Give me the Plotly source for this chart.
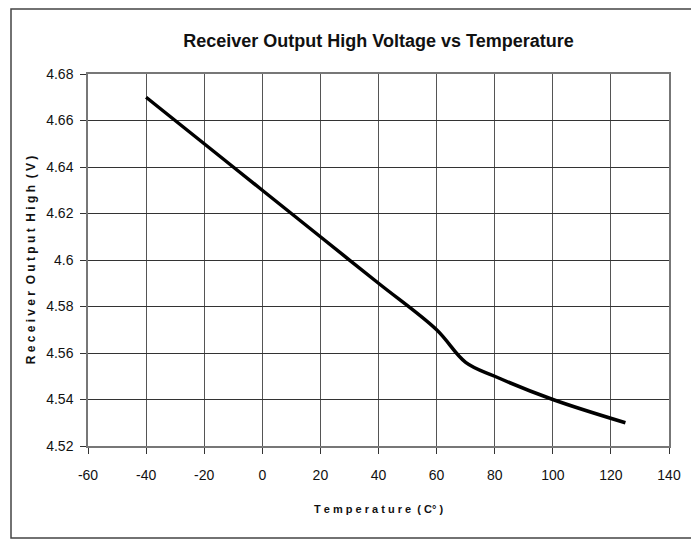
import plotly.graph_objects as go

# temperature (C) and receiver output high voltage (V)
temperature = [-40, -20, 0, 20, 40, 60, 70, 80, 100, 125]
voltage = [4.67, 4.65, 4.63, 4.61, 4.59, 4.57, 4.556, 4.55, 4.54, 4.53]

x_ticks = [-60, -40, -20, 0, 20, 40, 60, 80, 100, 120, 140]
x_tick_text = ['-60', '-40', '-20', '0', '20', '40', '60', '80', '100', '120', '140']
y_ticks = [4.52, 4.54, 4.56, 4.58, 4.6, 4.62, 4.64, 4.66, 4.68]
y_tick_text = ['4.52', '4.54', '4.56', '4.58', '4.6', '4.62', '4.64', '4.66', '4.68']

FONT = 'Liberation Sans Narrow, Arial Narrow, Liberation Sans, Arial'

# page body has an 8px margin, so the figure is 8px smaller than the window
W, H = 691, 532

figure = go.Figure()

figure.add_trace(
    go.Scatter(
        x=temperature,
        y=voltage,
        mode='lines',
        line=dict(color='#000000', width=3.5, shape='spline', smoothing=1.0),
        showlegend=False
    )
)

figure.update_layout(
    width=W,
    height=H,
    margin=dict(l=80, r=30, t=66, b=94, autoexpand=False),
    plot_bgcolor='white',
    paper_bgcolor='white',
    font=dict(family=FONT, size=13, color='#111111'),
    title=dict(
        text='<b>Receiver Output High Voltage vs Temperature</b>',
        x=(80 + 581 / 2) / W,
        xanchor='center',
        y=1 - 33 / H,
        yanchor='middle',
        font=dict(family=FONT, size=18, color='#111111')
    ),
    shapes=[
        dict(
            type='rect',
            xref='paper', yref='paper',
            x0=(3 - 80) / 581, x1=(685 - 80) / 581,
            y0=(438 - 530) / 372, y1=(438 - 1) / 372,
            line=dict(color='#444444', width=1.5),
            fillcolor='rgba(0,0,0,0)'
        )
    ]
)

figure.update_xaxes(
    range=[-60, 140],
    tickvals=x_ticks,
    ticktext=x_tick_text,
    automargin=False,
    showgrid=True,
    gridcolor='#555555',
    gridwidth=1,
    showline=True,
    linecolor='#777777',
    linewidth=1.5,
    mirror=True,
    ticks='outside',
    ticklen=6,
    tickcolor='#333333',
    ticklabelstandoff=9,
    zeroline=False,
    tickfont=dict(family=FONT, size=14),
    title=dict(
        text='<b>T e m p e r a t u r e  ( C° )</b>',
        font=dict(family=FONT, size=11),
        standoff=24
    )
)

figure.update_yaxes(
    range=[4.52, 4.68],
    tickvals=y_ticks,
    ticktext=y_tick_text,
    automargin=False,
    showgrid=True,
    gridcolor='#333333',
    gridwidth=1,
    showline=True,
    linecolor='#777777',
    linewidth=1.5,
    mirror=True,
    ticks='outside',
    ticklen=6,
    tickcolor='#333333',
    ticklabelstandoff=4,
    zeroline=False,
    tickfont=dict(family=FONT, size=14),
    title=dict(
        text='<b>R e c e i v e r  O u t p u t  H i g h  ( V )</b>',
        font=dict(family=FONT, size=12),
        standoff=8
    )
)

figure.write_html('out.html')
